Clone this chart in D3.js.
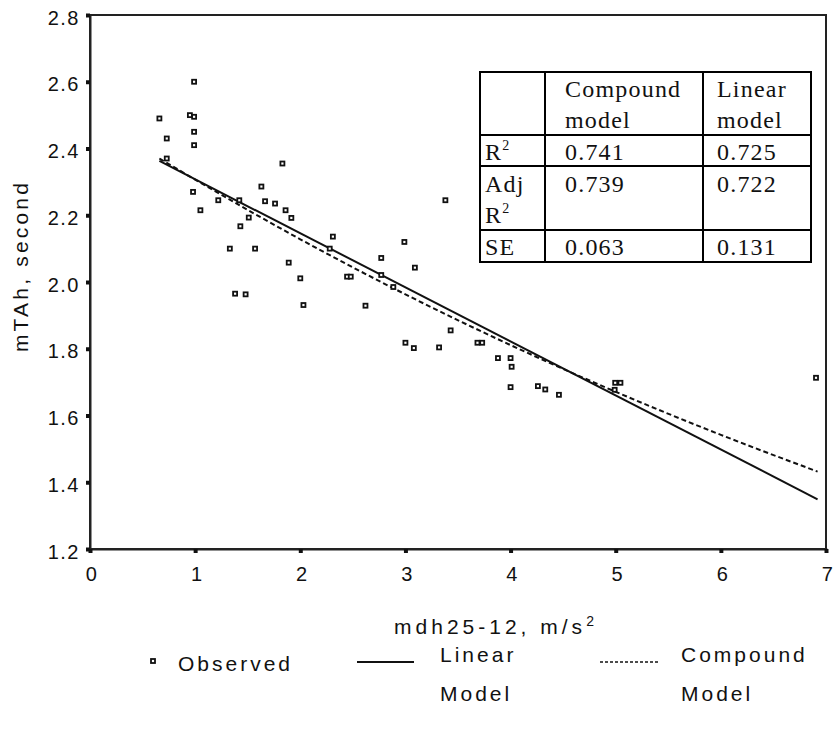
<!DOCTYPE html>
<html>
<head>
<meta charset="utf-8">
<script src="https://cdn.jsdelivr.net/npm/d3@7"></script>
<style>
  body { margin: 0; background: #fff; }
  svg text { font-family: "Liberation Sans", Arial, sans-serif; fill: #111; }
  .tbl text { font-family: "Liberation Serif", "Times New Roman", serif; }
</style>
</head>
<body>
<div id="viz-container"></div>
<script>
// observed points
const obsX = [0.66, 0.73, 0.73, 0.95, 0.99, 0.99, 0.99, 0.99, 0.98, 1.05,
              1.22, 1.33, 1.38, 1.42, 1.43, 1.48, 1.51, 1.57, 1.63, 1.665,
              1.76, 1.83, 1.86, 1.89, 1.915, 2.00, 2.03, 2.28, 2.31, 2.445,
              2.48, 2.62, 2.77, 2.77, 2.885, 2.99, 3.00, 3.08, 3.09, 3.32,
              3.38, 3.43, 3.685, 3.73, 3.88, 4.00, 4.01, 4.00, 4.26, 4.33,
              4.46, 4.995, 5.045, 4.99, 6.905];
const obsY = [2.49, 2.43, 2.37, 2.50, 2.495, 2.60, 2.45, 2.41, 2.27, 2.215,
              2.245, 2.10, 1.965, 2.245, 2.167, 1.963, 2.193, 2.10, 2.286, 2.242,
              2.235, 2.355, 2.215, 2.058, 2.192, 2.011, 1.931, 2.10, 2.136, 2.016,
              2.016, 1.929, 2.072, 2.021, 1.985, 2.12, 1.818, 1.802, 2.043, 1.804,
              2.245, 1.855, 1.818, 1.818, 1.772, 1.772, 1.746, 1.685, 1.688, 1.678,
              1.662, 1.698, 1.698, 1.677, 1.713];

// fitted lines
const linearX = [0.66, 6.92];
const linearY = [2.363, 1.349];
const compoundX = [0.66, 1, 2, 3, 4, 5, 6, 6.92];
const compoundY = [2.37, 2.307, 2.128, 1.963, 1.811, 1.671, 1.542, 1.432];

const xTicks = [0, 1, 2, 3, 4, 5, 6, 7];
const yTicks = [1.2, 1.4, 1.6, 1.8, 2.0, 2.2, 2.4, 2.6, 2.8];

// fit statistics table
const tblCols = ["Compound", "Linear"];
const r2 = ["0.741", "0.725"];
const adjR2 = ["0.739", "0.722"];
const se = ["0.063", "0.131"];

const svg = d3.select('#viz-container')
    .append('svg')
        .attr('width', 837)
        .attr('height', 734);

const x = d3.scaleLinear().domain([0, 7]).range([90, 826]);
const y = d3.scaleLinear().domain([1.2, 2.8]).range([549, 15]);

// frame
svg.append('rect')
    .attr('x', x(0)).attr('y', y(2.8))
    .attr('width', x(7) - x(0)).attr('height', y(1.2) - y(2.8))
    .attr('fill', 'none').attr('stroke', '#222').attr('stroke-width', 2);

const yAxis = svg.append('g')
    .attr('transform', `translate(${x(0)},0)`)
    .call(d3.axisLeft(y).tickValues(yTicks).tickFormat(d3.format('.1f'))
        .tickSize(4).tickPadding(6));
const xAxis = svg.append('g')
    .attr('transform', `translate(0,${y(1.2)})`)
    .call(d3.axisBottom(x).tickValues(xTicks).tickFormat(d3.format('d'))
        .tickSize(4).tickPadding(14));

[yAxis, xAxis].forEach(a => {
    a.select('.domain').attr('stroke', '#222').attr('stroke-width', 2);
    a.selectAll('.tick line').attr('stroke', '#111').attr('stroke-width', 4);
    a.selectAll('.tick text').attr('font-size', 20).attr('fill', '#111')
        .style('letter-spacing', '1.5px')
        .attr('font-family', '"Liberation Sans", Arial, sans-serif');
});
yAxis.selectAll('.tick text').attr('dy', '0.45em');
xAxis.selectAll('.tick text').attr('dx', '0.08em');

// axis titles
svg.append('text')
    .attr('transform', 'translate(28,266) rotate(-90)')
    .attr('text-anchor', 'middle')
    .attr('font-size', 21)
    .style('letter-spacing', '3.2px')
    .text('mTAh, second');

const xt = svg.append('text')
    .attr('x', 496).attr('y', 634)
    .attr('text-anchor', 'middle')
    .attr('font-size', 21)
    .style('letter-spacing', '4px');
xt.append('tspan').text('mdh25-12, m/s');
xt.append('tspan').attr('dy', -8).attr('font-size', 14).text('2');

// fit lines
const line = d3.line().x(d => x(d[0])).y(d => y(d[1]));
svg.append('path')
    .datum(linearX.map((v, i) => [v, linearY[i]]))
    .attr('d', line)
    .attr('fill', 'none').attr('stroke', '#111').attr('stroke-width', 2);
svg.append('path')
    .datum(compoundX.map((v, i) => [v, compoundY[i]]))
    .attr('d', line.curve(d3.curveMonotoneX))
    .attr('fill', 'none').attr('stroke', '#111').attr('stroke-width', 2)
    .attr('stroke-dasharray', '5,3');

// observed points
svg.selectAll('rect.obs')
    .data(obsX.map((v, i) => [v, obsY[i]]))
    .enter()
    .append('rect')
        .attr('class', 'obs')
        .attr('x', d => x(d[0]) - 2)
        .attr('y', d => y(d[1]) - 2)
        .attr('width', 4).attr('height', 4)
        .attr('fill', '#fff').attr('stroke', '#111').attr('stroke-width', 1.8);

// table
const tbl = svg.append('g').attr('class', 'tbl');
const tx = [480, 545, 703, 811];
const ty = [72, 135, 166, 230, 262];
tbl.append('rect')
    .attr('x', tx[0]).attr('y', ty[0])
    .attr('width', tx[3] - tx[0]).attr('height', ty[4] - ty[0])
    .attr('fill', '#fff').attr('stroke', '#000').attr('stroke-width', 2);
[1, 2].forEach(i => tbl.append('line')
    .attr('x1', tx[i]).attr('x2', tx[i]).attr('y1', ty[0]).attr('y2', ty[4])
    .attr('stroke', '#000').attr('stroke-width', 2));
[1, 2, 3].forEach(i => tbl.append('line')
    .attr('x1', tx[0]).attr('x2', tx[3]).attr('y1', ty[i]).attr('y2', ty[i])
    .attr('stroke', '#000').attr('stroke-width', 2));

const cellText = (cx, cy, str) => tbl.append('text')
    .attr('x', cx).attr('y', cy).attr('font-size', 24)
    .style('letter-spacing', '1.2px').text(str);
const rSq = (cx, cy) => {
    const t = cellText(cx, cy, 'R');
    t.append('tspan').attr('dy', -10).attr('font-size', 14).text('2');
};
const colX = [565, 717];
tblCols.forEach((c, i) => {
    cellText(colX[i], 97, c);
    cellText(colX[i], 128, 'model');
    cellText(colX[i], 160, r2[i]);
    cellText(colX[i], 192, adjR2[i]);
    cellText(colX[i], 255, se[i]);
});
rSq(485, 160);
cellText(485, 192, 'Adj');
rSq(485, 223);
cellText(485, 255, 'SE');

// legend
const lg = svg.append('g');
const lgText = (lx, ly, str) => lg.append('text').attr('x', lx).attr('y', ly)
    .attr('font-size', 21).style('letter-spacing', '3px').text(str);
lg.append('rect').attr('x', 151).attr('y', 659).attr('width', 4).attr('height', 4)
    .attr('fill', '#fff').attr('stroke', '#111').attr('stroke-width', 1.8);
lgText(178, 671, 'Observed');
lg.append('line').attr('x1', 357).attr('x2', 414).attr('y1', 662).attr('y2', 662)
    .attr('stroke', '#111').attr('stroke-width', 2);
lgText(440, 662, 'Linear');
lgText(440, 701, 'Model');
lg.append('line').attr('x1', 600).attr('x2', 660).attr('y1', 662).attr('y2', 662)
    .attr('stroke', '#111').attr('stroke-width', 1.5).attr('stroke-dasharray', '3,2');
lgText(681, 662, 'Compound');
lgText(681, 701, 'Model');
</script>
</body>
</html>
